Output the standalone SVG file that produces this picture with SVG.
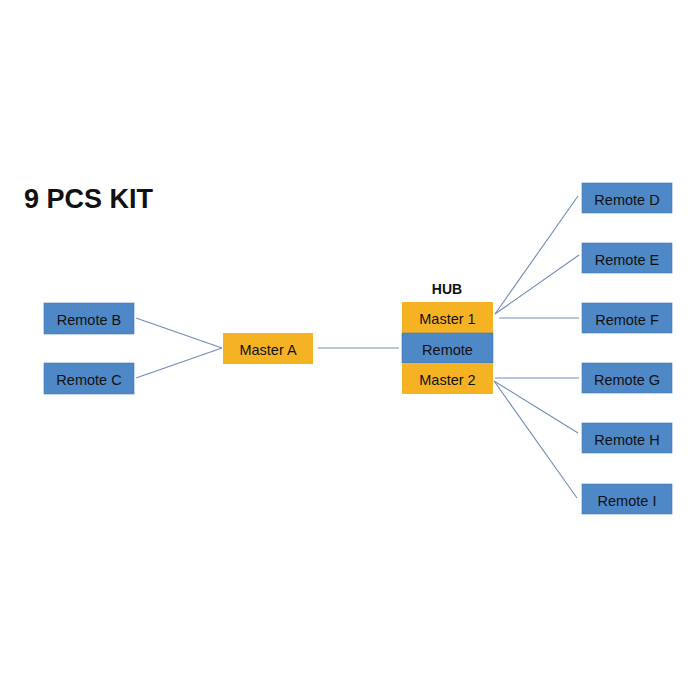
<svg xmlns="http://www.w3.org/2000/svg" width="700" height="700" viewBox="0 0 700 700">
<style>
.b{fill:#4F88C6;stroke:#3F78B6;stroke-width:0.6}
.o{fill:#F5B324}
text{font-family:"Liberation Sans",Arial,sans-serif;font-size:14.5px;fill:#111;text-anchor:middle;dominant-baseline:central}
.t{font-size:27px;font-weight:bold;text-anchor:start;dominant-baseline:alphabetic}
.h{font-size:14px;font-weight:bold}
#connectors line{stroke:#6F8DB8;stroke-width:1.1}
</style>
<rect width="700" height="700" fill="#fff"/>
<text class="t" x="24" y="208">9 PCS KIT</text>
<g id="connectors">
<line x1="136" y1="318" x2="222" y2="348"/>
<line x1="136" y1="378" x2="222" y2="348"/>
<line x1="318" y1="348" x2="399" y2="348"/>
<line x1="495" y1="314" x2="578" y2="196"/>
<line x1="495" y1="314" x2="579" y2="255"/>
<line x1="499" y1="318" x2="579" y2="318"/>
<line x1="495" y1="378" x2="579" y2="378"/>
<line x1="494" y1="381" x2="578" y2="433"/>
<line x1="494" y1="381" x2="577" y2="498"/>
</g>
<g id="remoteB"><rect class="b" x="44" y="303" width="90" height="31"/><text x="89" y="320">Remote B</text></g>
<g id="remoteC"><rect class="b" x="44" y="363" width="90" height="31"/><text x="89" y="380">Remote C</text></g>
<g id="masterA"><rect class="o" x="223" y="333" width="90" height="31"/><text x="268" y="350">Master A</text></g>
<g id="hub">
<text class="h" x="447" y="289">HUB</text>
<rect class="o" x="402" y="302" width="91" height="31"/><text x="447.5" y="319">Master 1</text>
<rect class="b" x="402" y="333" width="91" height="30"/><text x="447.5" y="349.5">Remote</text>
<rect class="o" x="402" y="363" width="91" height="31"/><text x="447.5" y="380">Master 2</text>
</g>
<g id="remoteD"><rect class="b" x="582" y="183" width="90" height="30"/><text x="627" y="199.5">Remote D</text></g>
<g id="remoteE"><rect class="b" x="582" y="243" width="90" height="30"/><text x="627" y="259.5">Remote E</text></g>
<g id="remoteF"><rect class="b" x="582" y="303" width="90" height="30"/><text x="627" y="319.5">Remote F</text></g>
<g id="remoteG"><rect class="b" x="582" y="363" width="90" height="30"/><text x="627" y="379.5">Remote G</text></g>
<g id="remoteH"><rect class="b" x="582" y="423" width="90" height="30"/><text x="627" y="439.5">Remote H</text></g>
<g id="remoteI"><rect class="b" x="582" y="484" width="90" height="30"/><text x="627" y="500.5">Remote I</text></g>
</svg>
